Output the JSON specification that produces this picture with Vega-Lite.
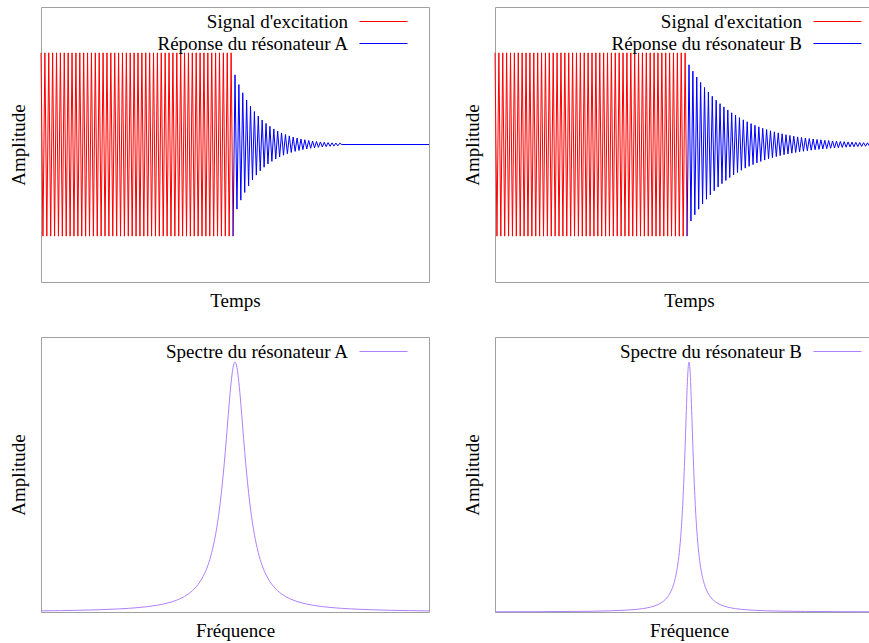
{
  "$schema": "https://vega.github.io/schema/vega-lite/v6.json",
  "padding": {"left": 8, "top": 6, "right": 0, "bottom": 0},
  "background": "white",
  "config": {
    "view": {"stroke": "#a0a0a0", "strokeWidth": 1},
    "axis": {"domain": false, "ticks": false, "labels": false, "grid": false, "titleFont": "Liberation Serif", "titleFontSize": 19, "titleFontWeight": "normal", "titleColor": "#000"},
    "axisX": {"titlePadding": 9},
    "axisY": {"titlePadding": 13},
    "legend": {"title": null, "symbolType": "M-4,0H4", "symbolSize": 144, "symbolStrokeWidth": 1, "labelAlign": "right", "labelOffset": -45, "labelFont": "Liberation Serif", "labelFontSize": 19, "labelColor": "#000", "rowPadding": 2, "padding": 0, "labelLimit": 0},
    "line": {"strokeWidth": 1}
  },
  "datasets": {
    "exc": [
      {"t":0,"y":1},{"t":0.5,"y":-1},{"t":1,"y":1},{"t":1.5,"y":-1},{"t":2,"y":1},{"t":2.5,"y":-1},{"t":3,"y":1},{"t":3.5,"y":-1},{"t":4,"y":1},{"t":4.5,"y":-1},
      {"t":5,"y":1},{"t":5.5,"y":-1},{"t":6,"y":1},{"t":6.5,"y":-1},{"t":7,"y":1},{"t":7.5,"y":-1},{"t":8,"y":1},{"t":8.5,"y":-1},{"t":9,"y":1},{"t":9.5,"y":-1},
      {"t":10,"y":1},{"t":10.5,"y":-1},{"t":11,"y":1},{"t":11.5,"y":-1},{"t":12,"y":1},{"t":12.5,"y":-1},{"t":13,"y":1},{"t":13.5,"y":-1},{"t":14,"y":1},{"t":14.5,"y":-1},
      {"t":15,"y":1},{"t":15.5,"y":-1},{"t":16,"y":1},{"t":16.5,"y":-1},{"t":17,"y":1},{"t":17.5,"y":-1},{"t":18,"y":1},{"t":18.5,"y":-1},{"t":19,"y":1},{"t":19.5,"y":-1},
      {"t":20,"y":1},{"t":20.5,"y":-1},{"t":21,"y":1},{"t":21.5,"y":-1},{"t":22,"y":1},{"t":22.5,"y":-1},{"t":23,"y":1},{"t":23.5,"y":-1},{"t":24,"y":1},{"t":24.5,"y":-1},
      {"t":25,"y":1},{"t":25.5,"y":-1},{"t":26,"y":1},{"t":26.5,"y":-1},{"t":27,"y":1},{"t":27.5,"y":-1},{"t":28,"y":1},{"t":28.5,"y":-1},{"t":29,"y":1},{"t":29.5,"y":-1},
      {"t":30,"y":1},{"t":30.5,"y":-1},{"t":31,"y":1},{"t":31.5,"y":-1},{"t":32,"y":1},{"t":32.5,"y":-1},{"t":33,"y":1},{"t":33.5,"y":-1},{"t":34,"y":1},{"t":34.5,"y":-1},
      {"t":35,"y":1},{"t":35.5,"y":-1},{"t":36,"y":1},{"t":36.5,"y":-1},{"t":37,"y":1},{"t":37.5,"y":-1},{"t":38,"y":1},{"t":38.5,"y":-1},{"t":39,"y":1},{"t":39.5,"y":-1},
      {"t":40,"y":1},{"t":40.5,"y":-1},{"t":41,"y":1},{"t":41.5,"y":-1},{"t":42,"y":1},{"t":42.5,"y":-1},{"t":43,"y":1},{"t":43.5,"y":-1},{"t":44,"y":1},{"t":44.5,"y":-1},
      {"t":45,"y":1},{"t":45.5,"y":-1},{"t":46,"y":1},{"t":46.5,"y":-1},{"t":47,"y":1},{"t":47.5,"y":-1},{"t":48,"y":1},{"t":48.5,"y":-1},{"t":49,"y":1},{"t":49.5,"y":-1}
    ],
    "respA": [
      {"t":49.5,"y":-1},{"t":50,"y":0.76},{"t":50.5,"y":-0.705},{"t":51,"y":0.654},{"t":51.5,"y":-0.607},{"t":52,"y":0.564},{"t":52.5,"y":-0.523},{"t":53,"y":0.485},{"t":53.5,"y":-0.45},{"t":54,"y":0.418},
      {"t":54.5,"y":-0.388},{"t":55,"y":0.36},{"t":55.5,"y":-0.334},{"t":56,"y":0.31},{"t":56.5,"y":-0.288},{"t":57,"y":0.267},{"t":57.5,"y":-0.248},{"t":58,"y":0.23},{"t":58.5,"y":-0.213},{"t":59,"y":0.198},
      {"t":59.5,"y":-0.184},{"t":60,"y":0.17},{"t":60.5,"y":-0.158},{"t":61,"y":0.147},{"t":61.5,"y":-0.136},{"t":62,"y":0.126},{"t":62.5,"y":-0.117},{"t":63,"y":0.109},{"t":63.5,"y":-0.101},{"t":64,"y":0.094},
      {"t":64.5,"y":-0.087},{"t":65,"y":0.081},{"t":65.5,"y":-0.075},{"t":66,"y":0.07},{"t":66.5,"y":-0.065},{"t":67,"y":0.06},{"t":67.5,"y":-0.056},{"t":68,"y":0.052},{"t":68.5,"y":-0.048},{"t":69,"y":0.044},
      {"t":69.5,"y":-0.041},{"t":70,"y":0.038},{"t":70.5,"y":-0.036},{"t":71,"y":0.033},{"t":71.5,"y":-0.031},{"t":72,"y":0.028},{"t":72.5,"y":-0.026},{"t":73,"y":0.024},{"t":73.5,"y":-0.023},{"t":74,"y":0.021},
      {"t":74.5,"y":-0.02},{"t":75,"y":0.018},{"t":75.5,"y":-0.017},{"t":76,"y":0.016},{"t":76.5,"y":-0.015},{"t":77,"y":0.014},{"t":77.5,"y":0},{"t":100,"y":0}
    ],
    "respB": [
      {"t":49.5,"y":-1},{"t":50,"y":0.87},{"t":50.5,"y":-0.834},{"t":51,"y":0.8},{"t":51.5,"y":-0.767},{"t":52,"y":0.736},{"t":52.5,"y":-0.706},{"t":53,"y":0.677},{"t":53.5,"y":-0.649},{"t":54,"y":0.622},
      {"t":54.5,"y":-0.597},{"t":55,"y":0.572},{"t":55.5,"y":-0.549},{"t":56,"y":0.526},{"t":56.5,"y":-0.505},{"t":57,"y":0.484},{"t":57.5,"y":-0.464},{"t":58,"y":0.445},{"t":58.5,"y":-0.427},{"t":59,"y":0.41},
      {"t":59.5,"y":-0.393},{"t":60,"y":0.377},{"t":60.5,"y":-0.361},{"t":61,"y":0.346},{"t":61.5,"y":-0.332},{"t":62,"y":0.319},{"t":62.5,"y":-0.306},{"t":63,"y":0.293},{"t":63.5,"y":-0.281},{"t":64,"y":0.269},
      {"t":64.5,"y":-0.258},{"t":65,"y":0.248},{"t":65.5,"y":-0.238},{"t":66,"y":0.228},{"t":66.5,"y":-0.219},{"t":67,"y":0.21},{"t":67.5,"y":-0.201},{"t":68,"y":0.193},{"t":68.5,"y":-0.185},{"t":69,"y":0.177},
      {"t":69.5,"y":-0.17},{"t":70,"y":0.163},{"t":70.5,"y":-0.156},{"t":71,"y":0.15},{"t":71.5,"y":-0.144},{"t":72,"y":0.138},{"t":72.5,"y":-0.132},{"t":73,"y":0.127},{"t":73.5,"y":-0.122},{"t":74,"y":0.117},
      {"t":74.5,"y":-0.112},{"t":75,"y":0.107},{"t":75.5,"y":-0.103},{"t":76,"y":0.099},{"t":76.5,"y":-0.095},{"t":77,"y":0.091},{"t":77.5,"y":-0.087},{"t":78,"y":0.083},{"t":78.5,"y":-0.08},{"t":79,"y":0.077},
      {"t":79.5,"y":-0.074},{"t":80,"y":0.071},{"t":80.5,"y":-0.068},{"t":81,"y":0.065},{"t":81.5,"y":-0.062},{"t":82,"y":0.06},{"t":82.5,"y":-0.057},{"t":83,"y":0.055},{"t":83.5,"y":-0.053},{"t":84,"y":0.051},
      {"t":84.5,"y":-0.048},{"t":85,"y":0.046},{"t":85.5,"y":-0.045},{"t":86,"y":0.043},{"t":86.5,"y":-0.041},{"t":87,"y":0.039},{"t":87.5,"y":-0.038},{"t":88,"y":0.036},{"t":88.5,"y":-0.035},{"t":89,"y":0.033},
      {"t":89.5,"y":-0.032},{"t":90,"y":0.031},{"t":90.5,"y":-0.029},{"t":91,"y":0.028},{"t":91.5,"y":-0.027},{"t":92,"y":0.026},{"t":92.5,"y":-0.025},{"t":93,"y":0.024},{"t":93.5,"y":-0.023},{"t":94,"y":0.022},
      {"t":94.5,"y":-0.021},{"t":95,"y":0.02},{"t":95.5,"y":-0.019},{"t":96,"y":0.019},{"t":96.5,"y":-0.018},{"t":97,"y":0.017},{"t":97.5,"y":-0.016},{"t":98,"y":0.016},{"t":98.5,"y":-0.015},{"t":99,"y":0.014},
      {"t":99.5,"y":-0.014},{"t":100,"y":0.013}
    ],
    "specA": [
      {"f":0,"a":0.0045},{"f":5,"a":0.0055},{"f":10,"a":0.007},{"f":15,"a":0.0091},{"f":20,"a":0.0123},{"f":25,"a":0.0176},{"f":30,"a":0.0273},{"f":33,"a":0.0374},{"f":35,"a":0.0475},{"f":37,"a":0.0623},
      {"f":38,"a":0.0723},{"f":39,"a":0.0849},{"f":40,"a":0.101},{"f":41,"a":0.1217},{"f":42,"a":0.149},{"f":43,"a":0.186},{"f":44,"a":0.238},{"f":45,"a":0.31},{"f":46,"a":0.412},{"f":46.5,"a":0.478},
      {"f":47,"a":0.555},{"f":47.5,"a":0.642},{"f":48,"a":0.737},{"f":48.5,"a":0.833},{"f":49,"a":0.918},{"f":49.5,"a":0.978},{"f":50,"a":1},{"f":50.5,"a":0.978},{"f":51,"a":0.918},{"f":51.5,"a":0.833},
      {"f":52,"a":0.737},{"f":52.5,"a":0.642},{"f":53,"a":0.555},{"f":53.5,"a":0.478},{"f":54,"a":0.412},{"f":55,"a":0.31},{"f":56,"a":0.238},{"f":57,"a":0.186},{"f":58,"a":0.149},{"f":59,"a":0.1217},
      {"f":60,"a":0.101},{"f":61,"a":0.0849},{"f":62,"a":0.0723},{"f":63,"a":0.0623},{"f":65,"a":0.0475},{"f":67,"a":0.0374},{"f":70,"a":0.0273},{"f":75,"a":0.0176},{"f":80,"a":0.0123},{"f":85,"a":0.0091},
      {"f":90,"a":0.007},{"f":95,"a":0.0055},{"f":100,"a":0.0045}
    ],
    "specB": [
      {"f":0,"a":0.0008},{"f":10,"a":0.0012},{"f":20,"a":0.0022},{"f":25,"a":0.0031},{"f":30,"a":0.0049},{"f":35,"a":0.0086},{"f":38,"a":0.0134},{"f":40,"a":0.0192},{"f":42,"a":0.0297},{"f":43,"a":0.0385},
      {"f":44,"a":0.0516},{"f":45,"a":0.0727},{"f":46,"a":0.109},{"f":46.5,"a":0.138},{"f":47,"a":0.179},{"f":47.5,"a":0.239},{"f":48,"a":0.329},{"f":48.25,"a":0.39},{"f":48.5,"a":0.466},{"f":48.75,"a":0.556},
      {"f":49,"a":0.662},{"f":49.25,"a":0.777},{"f":49.5,"a":0.887},{"f":49.75,"a":0.969},{"f":50,"a":1},{"f":50.25,"a":0.969},{"f":50.5,"a":0.887},{"f":50.75,"a":0.777},{"f":51,"a":0.662},{"f":51.25,"a":0.556},
      {"f":51.5,"a":0.466},{"f":51.75,"a":0.39},{"f":52,"a":0.329},{"f":52.5,"a":0.239},{"f":53,"a":0.179},{"f":53.5,"a":0.138},{"f":54,"a":0.109},{"f":55,"a":0.0727},{"f":56,"a":0.0516},{"f":57,"a":0.0385},
      {"f":58,"a":0.0297},{"f":60,"a":0.0192},{"f":62,"a":0.0134},{"f":65,"a":0.0086},{"f":70,"a":0.0049},{"f":75,"a":0.0031},{"f":80,"a":0.0022},{"f":90,"a":0.0012},{"f":100,"a":0.0008}
    ]
  },
  "spacing": 25,
  "resolve": {"scale": {"color": "independent"}, "legend": {"color": "independent"}},
  "vconcat": [
    {
      "spacing": 30,
      "resolve": {"scale": {"color": "independent"}, "legend": {"color": "independent"}},
      "hconcat": [
        {
          "width": 388, "height": 275,
          "layer": [
            {"data": {"name": "exc"}, "mark": {"type": "line", "strokeWidth": 1},
             "encoding": {
               "x": {"field": "t", "type": "quantitative", "scale": {"domain": [0, 100], "nice": false, "zero": false}, "title": "Temps"},
               "y": {"field": "y", "type": "quantitative", "scale": {"domain": [-1.5, 1.5], "nice": false}, "title": "Amplitude"},
               "color": {"datum": "Signal d'excitation", "type": "nominal", "scale": {"domain": ["Signal d'excitation", "Réponse du résonateur A"], "range": ["#ff0000", "#0000ff"]}, "legend": {"orient": "none", "legendX": 333, "legendY": 5}}
             }},
            {"data": {"name": "respA"}, "mark": {"type": "line", "strokeWidth": 1},
             "encoding": {
               "x": {"field": "t", "type": "quantitative"},
               "y": {"field": "y", "type": "quantitative"},
               "color": {"datum": "Réponse du résonateur A", "type": "nominal"}
             }}
          ]
        },
        {
          "width": 388, "height": 275,
          "layer": [
            {"data": {"name": "exc"}, "mark": {"type": "line", "strokeWidth": 1},
             "encoding": {
               "x": {"field": "t", "type": "quantitative", "scale": {"domain": [0, 100], "nice": false, "zero": false}, "title": "Temps"},
               "y": {"field": "y", "type": "quantitative", "scale": {"domain": [-1.5, 1.5], "nice": false}, "title": "Amplitude"},
               "color": {"datum": "Signal d'excitation", "type": "nominal", "scale": {"domain": ["Signal d'excitation", "Réponse du résonateur B"], "range": ["#ff0000", "#0000ff"]}, "legend": {"orient": "none", "legendX": 333, "legendY": 5}}
             }},
            {"data": {"name": "respB"}, "mark": {"type": "line", "strokeWidth": 1},
             "encoding": {
               "x": {"field": "t", "type": "quantitative"},
               "y": {"field": "y", "type": "quantitative"},
               "color": {"datum": "Réponse du résonateur B", "type": "nominal"}
             }}
          ]
        }
      ]
    },
    {
      "spacing": 30,
      "resolve": {"scale": {"color": "independent"}, "legend": {"color": "independent"}},
      "hconcat": [
        {
          "width": 388, "height": 275,
          "data": {"name": "specA"},
          "mark": {"type": "line", "strokeWidth": 1, "interpolate": "monotone"},
          "encoding": {
            "x": {"field": "f", "type": "quantitative", "scale": {"domain": [0, 100], "nice": false, "zero": false}, "title": "Fréquence"},
            "y": {"field": "a", "type": "quantitative", "scale": {"domain": [0, 1.1], "nice": false}, "title": "Amplitude"},
            "color": {"datum": "Spectre du résonateur A", "type": "nominal", "scale": {"domain": ["Spectre du résonateur A"], "range": ["#b080ff"]}, "legend": {"orient": "none", "legendX": 333, "legendY": 5}}
          }
        },
        {
          "width": 388, "height": 275,
          "data": {"name": "specB"},
          "mark": {"type": "line", "strokeWidth": 1, "interpolate": "monotone"},
          "encoding": {
            "x": {"field": "f", "type": "quantitative", "scale": {"domain": [0, 100], "nice": false, "zero": false}, "title": "Fréquence"},
            "y": {"field": "a", "type": "quantitative", "scale": {"domain": [0, 1.1], "nice": false}, "title": "Amplitude"},
            "color": {"datum": "Spectre du résonateur B", "type": "nominal", "scale": {"domain": ["Spectre du résonateur B"], "range": ["#b080ff"]}, "legend": {"orient": "none", "legendX": 333, "legendY": 5}}
          }
        }
      ]
    }
  ]
}
